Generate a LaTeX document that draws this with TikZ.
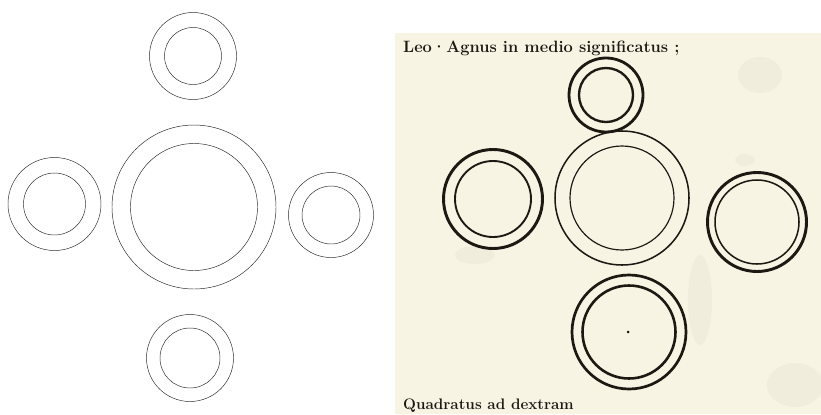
\documentclass[tikz,border=0pt]{standalone}
\usepackage{xcolor}
\definecolor{parch}{RGB}{248,244,228}
\definecolor{ink}{RGB}{28,24,18}
\definecolor{smudge}{RGB}{150,150,138}
\usetikzlibrary{positioning}

\begin{document}
\begin{tikzpicture}[x=0.03cm, y=-0.03cm,
  sketch/.style={draw=black!85, line width=0.4pt},
  inkring/.style={draw=ink, line width=#1},
  inkring/.default=1pt,
  stain/.style={fill=smudge, opacity=0.07, draw=none},
  script/.style={text=ink, font=\fontsize{13}{15}\selectfont\bfseries, inner sep=0pt}
]
  \useasboundingbox (0,0) rectangle (821,414);
  \clip (0,0) rectangle (821,414);

  % left: line drawing
  \foreach \cx/\cy/\ro/\ri in {193/56/43.5/28.5, 194/207/82/63.5, 54.5/204/46.5/31, 331/215/42.5/29, 190/358/43.5/30}
  {
    \draw[sketch] (\cx,\cy) circle (\ro);
    \draw[sketch] (\cx,\cy) circle (\ri);
  }

  % right: manuscript page
  \fill[parch] (395,33) rectangle (821,414);
  \fill[stain] (745,160) ellipse (10 and 6);
  \fill[stain] (760,75) ellipse (22 and 18);
  \fill[stain] (475,255) ellipse (20 and 9);
  \fill[stain] (795,385) ellipse (28 and 22);
  \fill[stain] (700,300) ellipse (12 and 45);

  \foreach \cx/\cy/\ro/\wo/\ri/\wi in {606/95/37/2.4pt/27/2pt, 622/198/67/1.3pt/52/1pt, 493/199/49.5/2.5pt/38/1.6pt, 757/222/49.5/2.5pt/42/1.3pt, 629/332/57/2.3pt/46.5/2.2pt}
  {
    \draw[inkring=\wo] (\cx,\cy) circle (\ro);
    \draw[inkring=\wi] (\cx,\cy) circle (\ri);
  }
  \fill[ink] (628,332) circle (1.5);

  \node[script, font=\fontsize{14}{16}\selectfont\bfseries, anchor=base west] (head) at (403,52) {Leo·Agnus in medio significatus ;};
  \node[script, anchor=base west] (foot) at (403,409) {Quadratus ad dextram};
\end{tikzpicture}
\end{document}
